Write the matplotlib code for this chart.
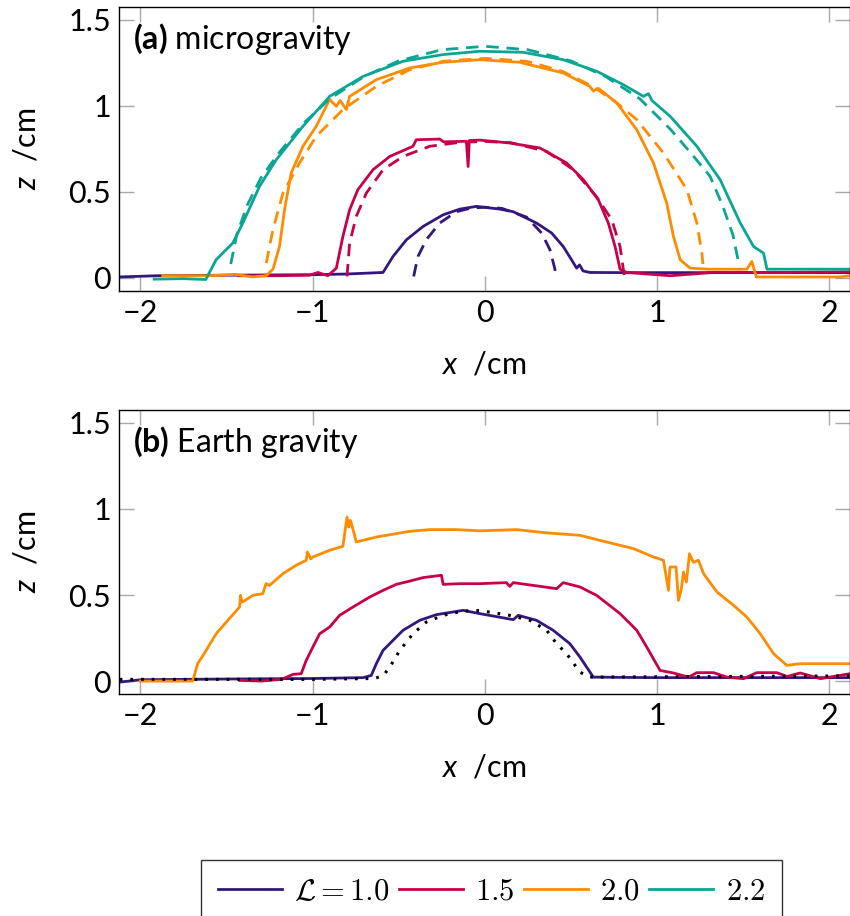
import numpy as np
import matplotlib
matplotlib.use('Agg')
import matplotlib.pyplot as plt

plt.rcParams['font.family'] = ['Lato', 'DejaVu Sans']
plt.rcParams['mathtext.fontset'] = 'custom'
plt.rcParams['mathtext.rm'] = 'Lato'
plt.rcParams['mathtext.it'] = 'Lato:italic'
plt.rcParams['mathtext.bf'] = 'Lato:bold'

# colours for L = 1.0, 1.5, 2.0, 2.2
c_10 = '#35167f'
c_15 = '#c8004b'
c_20 = '#ff8c00'
c_22 = '#0aa595'

# ---- (a) microgravity, measured profiles (solid) ----
a10_x = [-2.12, -1.9, -1.5, -1.0, -0.8, -0.591, -0.533, -0.455, -0.359, -0.242, -0.145, -0.048, 0.087, 0.165,
         0.30, 0.388, 0.455, 0.50, 0.533, 0.55, 0.57, 0.61, 0.8, 1.2, 1.6, 2.12]
a10_z = [0.005, 0.012, 0.015, 0.018, 0.022, 0.031, 0.124, 0.221, 0.298, 0.366, 0.399, 0.415, 0.399, 0.384,
         0.318, 0.26, 0.182, 0.11, 0.056, 0.075, 0.04, 0.031, 0.03, 0.03, 0.03, 0.03]

a15_x = [-1.43, -1.2, -1.017, -0.969, -0.911, -0.862, -0.824, -0.785, -0.737, -0.649, -0.552, -0.417, -0.398,
         -0.262, -0.24, -0.107, -0.097, -0.09, -0.03, 0.145, 0.32, 0.475, 0.572, 0.659, 0.717, 0.756, 0.785,
         0.824, 1.076, 1.328, 1.7, 2.12]
a15_z = [0.012, 0.012, 0.015, 0.031, 0.012, 0.056, 0.24, 0.395, 0.512, 0.628, 0.705, 0.764, 0.802,
         0.806, 0.79, 0.793, 0.647, 0.798, 0.80, 0.783, 0.754, 0.667, 0.57, 0.453, 0.318, 0.182, 0.05,
         0.031, 0.012, 0.031, 0.03, 0.035]

a20_x = [-1.87, -1.6, -1.45, -1.35, -1.269, -1.23, -1.192, -1.163, -1.124, -1.056, -0.979, -0.911, -0.905,
         -0.862, -0.84, -0.804, -0.785, -0.63, -0.436, -0.242, -0.03, 0.203, 0.455, 0.61, 0.63, 0.66, 0.766,
         0.882, 0.979, 1.056, 1.095, 1.134, 1.192, 1.30, 1.521, 1.55, 1.576, 1.8, 2.06, 2.12]
a20_z = [0.012, 0.012, 0.02, 0.005, 0.012, 0.05, 0.182, 0.395, 0.609, 0.764, 0.880, 1.016, 1.04,
         0.996, 1.03, 0.977, 1.054, 1.151, 1.219, 1.252, 1.267, 1.252, 1.19, 1.112, 1.085, 1.1, 1.016,
         0.86, 0.667, 0.434, 0.24, 0.105, 0.056, 0.05, 0.05, 0.095, 0.005, 0.005, 0.005, 0.012]

a22_x = [-1.92, -1.75, -1.62, -1.56, -1.463, -1.405, -1.308, -1.211, -1.056, -0.901, -0.707, -0.475, -0.242,
         -0.03, 0.223, 0.455, 0.649, 0.804, 0.921, 0.95, 0.97, 1.076, 1.231, 1.366, 1.483, 1.56, 1.618, 1.638,
         1.8, 2.12]
a22_z = [-0.008, -0.005, -0.01, 0.105, 0.202, 0.318, 0.531, 0.686, 0.880, 1.054, 1.170, 1.258, 1.297,
         1.316, 1.31, 1.267, 1.20, 1.122, 1.054, 1.07, 1.03, 0.938, 0.764, 0.570, 0.318, 0.182, 0.143, 0.05,
         0.05, 0.05]

# ---- (a) model profiles (dashed) ----
m10_x = [-0.413, -0.40, -0.388, -0.34, -0.262, -0.165, -0.08, 0.0, 0.1, 0.242, 0.33, 0.378, 0.407, 0.41]
m10_z = [0.008, 0.07, 0.124, 0.221, 0.318, 0.384, 0.405, 0.41, 0.403, 0.353, 0.26, 0.163, 0.05, 0.02]

m15_x = [-0.80, -0.785, -0.746, -0.688, -0.591, -0.475, -0.32, -0.145, 0.0, 0.15, 0.359, 0.514, 0.649, 0.737,
         0.785, 0.804, 0.81]
m15_z = [0.008, 0.202, 0.357, 0.492, 0.628, 0.705, 0.764, 0.787, 0.792, 0.785, 0.734, 0.628, 0.47, 0.337,
         0.182, 0.05, 0.01]

m20_x = [-1.269, -1.23, -1.172, -1.076, -0.979, -0.824, -0.63, -0.436, -0.242, 0.0, 0.242, 0.45, 0.63, 0.766,
         0.882, 1.037, 1.173, 1.231, 1.26, 1.266]
m20_z = [0.085, 0.28, 0.492, 0.667, 0.822, 0.977, 1.112, 1.209, 1.258, 1.275, 1.258, 1.2, 1.11, 1.016,
         0.919, 0.725, 0.512, 0.318, 0.143, 0.08]

m22_x = [-1.475, -1.44, -1.38, -1.30, -1.2, -1.05, -0.9, -0.7, -0.5, -0.25, 0.0, 0.25, 0.5, 0.7, 0.9, 1.08,
         1.2, 1.308, 1.38, 1.44, 1.475]
m22_z = [0.08, 0.25, 0.42, 0.58, 0.72, 0.90, 1.04, 1.17, 1.26, 1.325, 1.345, 1.325, 1.26, 1.17, 1.04, 0.86,
         0.72, 0.589, 0.42, 0.25, 0.08]

# ---- (b) Earth gravity, measured profiles ----
b10_x = [-2.12, -1.996, -1.5, -1.0, -0.707, -0.659, -0.63, -0.591, -0.533, -0.475, -0.378, -0.281, -0.126,
         -0.03, 0.165, 0.194, 0.3, 0.397, 0.494, 0.552, 0.63, 1.0, 2.12]
b10_z = [-0.006, 0.008, 0.012, 0.015, 0.02, 0.033, 0.101, 0.178, 0.237, 0.295, 0.353, 0.386, 0.411,
         0.392, 0.357, 0.382, 0.353, 0.295, 0.217, 0.14, 0.023, 0.02, 0.02]

b15_x = [-1.424, -1.30, -1.18, -1.114, -1.066, -1.037, -0.998, -0.959, -0.901, -0.843, -0.766, -0.669, -0.591,
         -0.514, -0.436, -0.359, -0.252, -0.242, -0.145, -0.03, 0.125, 0.145, 0.165, 0.417, 0.455, 0.552, 0.649,
         0.785, 0.882, 0.94, 1.017, 1.095, 1.182, 1.231, 1.328, 1.405, 1.502, 1.579, 1.695, 1.754, 1.831, 1.948,
         2.12]
b15_z = [0.004, 0.0, 0.01, 0.039, 0.043, 0.12, 0.198, 0.275, 0.314, 0.382, 0.43, 0.488, 0.527,
         0.562, 0.581, 0.601, 0.615, 0.562, 0.566, 0.566, 0.572, 0.55, 0.572, 0.537, 0.572, 0.547, 0.498,
         0.392, 0.295, 0.198, 0.062, 0.047, 0.023, 0.049, 0.049, 0.023, 0.014, 0.049, 0.049, 0.027, 0.047, 0.014,
         0.043]

b20_x = [-2.0, -1.696, -1.667, -1.618, -1.56, -1.483, -1.424, -1.418, -1.41, -1.39, -1.347, -1.289, -1.27,
         -1.25, -1.172, -1.095, -1.037, -1.03, -1.01, -0.998, -0.901, -0.824, -0.80, -0.79, -0.78, -0.765,
         -0.746, -0.63, -0.436, -0.32, -0.165, -0.03, 0.184, 0.359, 0.552, 0.707, 0.862, 0.979, 1.037, 1.066,
         1.075, 1.11, 1.124, 1.14, 1.153, 1.17, 1.188, 1.21, 1.24, 1.27, 1.347, 1.444, 1.521, 1.599, 1.676,
         1.754, 1.78, 1.831, 2.12]
b20_z = [0.0, 0.0, 0.101, 0.178, 0.275, 0.363, 0.43, 0.498, 0.459, 0.47, 0.498, 0.508, 0.566,
         0.556, 0.624, 0.673, 0.702, 0.75, 0.71, 0.721, 0.76, 0.783, 0.953, 0.895, 0.934, 0.88,
         0.808, 0.837, 0.87, 0.88, 0.88, 0.873, 0.88, 0.861, 0.847, 0.808, 0.77, 0.721, 0.702, 0.527,
         0.663, 0.663, 0.469, 0.53, 0.634, 0.575, 0.74, 0.69, 0.702, 0.624, 0.518, 0.44, 0.372, 0.275, 0.159,
         0.091, 0.095, 0.101, 0.101]

# (b) model for L = 1.0 (dotted)
bm_x = [-2.12, -1.0, -0.64, -0.589, -0.552, -0.494, -0.417, -0.34, -0.242, -0.126, -0.03, 0.145, 0.262, 0.359,
        0.417, 0.475, 0.552, 0.61, 1.0, 2.12]
bm_z = [0.01, 0.01, 0.015, 0.033, 0.081, 0.178, 0.275, 0.343, 0.382, 0.407, 0.41, 0.382, 0.353, 0.295,
        0.217, 0.159, 0.052, 0.023, 0.025, 0.03]

x_ticks = [-2, -1, 0, 1, 2]
z_ticks = [0, 0.5, 1, 1.5]
z_ticklabels = ['0', '0.5', '1', '1.5']

fig = plt.figure(figsize=(8.5, 9.16), dpi=100)
W, H = 850, 916
ax1 = fig.add_axes([119.3 / W, 1 - 290.7 / H, 730.2 / W, 284 / H])
ax2 = fig.add_axes([119.3 / W, 1 - 694 / H, 730.2 / W, 284 / H])

lw = 2.0
dash = (0, (4.5, 2.8))

l10, = ax1.plot(a10_x, a10_z, color=c_10, lw=lw)
ax1.plot(m10_x, m10_z, color=c_10, lw=lw, ls=dash)
l15, = ax1.plot(a15_x, a15_z, color=c_15, lw=lw)
ax1.plot(m15_x, m15_z, color=c_15, lw=lw, ls=dash)
l20, = ax1.plot(a20_x, a20_z, color=c_20, lw=lw)
ax1.plot(m20_x, m20_z, color=c_20, lw=lw, ls=dash)
l22, = ax1.plot(a22_x, a22_z, color=c_22, lw=lw)
ax1.plot(m22_x, m22_z, color=c_22, lw=lw, ls=dash)

ax2.plot(b10_x, b10_z, color=c_10, lw=lw)
ax2.plot(b15_x, b15_z, color=c_15, lw=lw)
ax2.plot(b20_x, b20_z, color=c_20, lw=lw)
ax2.plot(bm_x, bm_z, color='black', lw=2.2, ls=(0, (0.9, 2.6)))

for ax, tag in [(ax1, r'$\mathbf{(a)}$ microgravity'), (ax2, r'$\mathbf{(b)}$ Earth gravity')]:
    ax.set_xlim(-2.122, 2.117)
    ax.set_ylim(-0.075, 1.575)
    ax.set_xticks(x_ticks)
    ax.set_xticklabels(['\u22122', '\u22121', '0', '1', '2'])
    ax.set_yticks(z_ticks)
    ax.set_yticklabels(z_ticklabels)
    ax.tick_params(direction='in', top=True, right=True, length=10.5, width=1.0, color='#a8a8a8',
                   labelsize=22, pad=6)
    for s in ax.spines.values():
        s.set_linewidth(1.0)
    ax.set_xlabel(r'$x$  /cm', fontsize=22, labelpad=17)
    ax.set_ylabel(r'$z$  /cm', fontsize=22, labelpad=20)
    ax.text(0.019, 0.95, tag, transform=ax.transAxes, fontsize=23, va='top', ha='left')

leg = fig.legend([l10, l15, l20, l22], [r'$\mathcal{L} = 1.0$', '$1.5$', '$2.0$', '$2.2$'],
                 loc='upper center', bbox_to_anchor=(491.5 / W, 1 - 860 / H), ncol=4,
                 prop={'size': 22, 'math_fontfamily': 'cm'}, frameon=True, fancybox=False,
                 edgecolor='black', handlelength=2.1, handletextpad=0.4, columnspacing=0.3,
                 borderpad=0.55, borderaxespad=0)
leg.get_frame().set_linewidth(1.0)

fig.savefig('out.png', dpi=100)
